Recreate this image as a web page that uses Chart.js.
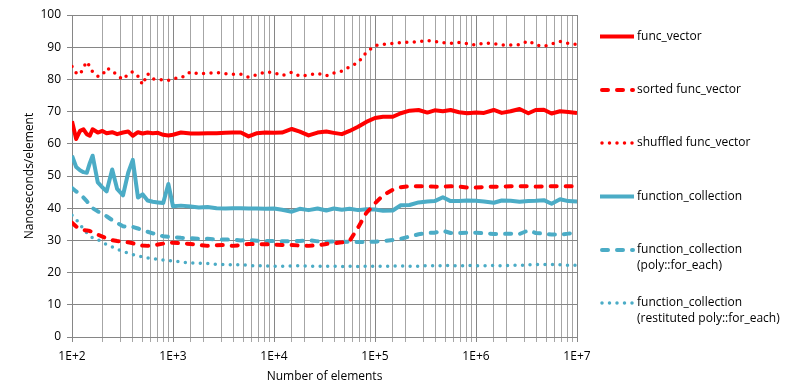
<!DOCTYPE html>
<html>
<head>
<meta charset="utf-8">
<script src="https://cdn.jsdelivr.net/npm/chart.js@4.4.1/dist/chart.umd.min.js"></script>
<style>
  html, body { margin: 0; padding: 0; background: #fff; }
  #wrap { width: 795px; height: 390px; }
</style>
</head>
<body>
<div id="wrap"><canvas id="chart" width="795" height="390"></canvas></div>
<script>
// number of elements (x), shared by every series
const elements = [
  100, 110, 120, 130, 140, 150, 160, 180, 200, 220, 250, 280, 320, 360, 400, 450, 500, 560, 630, 710, 800, 900,
  1e3, 1.2e3, 1.5e3, 1.8e3, 2.2e3, 2.7e3, 3.3e3, 3.9e3, 4.7e3, 5.6e3, 6.8e3, 8.2e3,
  1e4, 1.2e4, 1.5e4, 1.8e4, 2.2e4, 2.7e4, 3.3e4, 3.9e4, 4.7e4, 5.6e4, 6.8e4, 8.2e4,
  1e5, 1.2e5, 1.5e5, 1.8e5, 2.2e5, 2.7e5, 3.3e5, 3.9e5, 4.7e5, 5.6e5, 6.8e5, 8.2e5,
  1e6, 1.2e6, 1.5e6, 1.8e6, 2.2e6, 2.7e6, 3.3e6, 3.9e6, 4.7e6, 5.6e6, 6.8e6, 8.2e6,
  1e7
];

const funcVector = [
  67, 61.5, 64, 64.5, 63, 62.5, 64.5, 63.5, 64, 63.3, 63.6, 63, 63.5, 63.8, 62.5, 63.6, 63.2, 63.5, 63.3, 63.4, 62.8, 62.6,
  62.8, 63.5, 63.2, 63.2, 63.3, 63.3, 63.4, 63.5, 63.5, 62.3, 63.3, 63.5,
  63.4, 63.5, 64.6, 63.8, 62.6, 63.5, 63.8, 63.4, 63.0, 64.0, 65.3, 66.8,
  68, 68.4, 68.4, 69.5, 70.3, 70.5, 69.7, 70.4, 70.1, 70.5, 69.8, 69.5,
  69.7, 69.6, 70.5, 69.6, 70.1, 70.8, 69.5, 70.5, 70.6, 69.4, 70.1, 69.9,
  69.6
];

const sortedFuncVector = [
  35.5, 34.3, 33.6, 33.2, 33.1, 32.9, 32.6, 31.8, 31.2, 30.6, 30.1, 29.8, 29.6, 29.4, 29.1, 28.7, 28.4, 28.3, 28.4, 28.7, 29.0, 29.2,
  29.3, 29.1, 28.9, 28.6, 28.3, 28.5, 28.6, 28.3, 28.5, 28.9, 28.8, 28.8,
  28.7, 28.6, 28.6, 28.4, 28.3, 28.5, 28.9, 29.1, 29.4, 29.8, 34.0, 38.5,
  41.5, 44.0, 45.7, 46.5, 46.8, 46.8, 46.8, 46.7, 46.7, 46.8, 46.7, 46.4,
  46.4, 46.6, 46.7, 46.7, 46.8, 46.8, 46.8, 46.7, 46.8, 46.8, 46.8, 46.8,
  46.8
];

const shuffledFuncVector = [
  84, 82, 81.5, 83.7, 85.5, 84, 82.3, 81, 81.3, 83.5, 82.8, 81.2, 80, 81.7, 82.4, 81, 78.4, 81.8, 80.2, 80, 79.8, 79.7,
  80.3, 80.4, 82.4, 81.7, 81.9, 82.1, 81.8, 81.6, 81.6, 80.7, 81.5, 82.3,
  82.1, 81.2, 82.2, 81, 81.4, 81.9, 81.1, 82, 82.6, 83.9, 85.2, 88.4,
  90.5, 90.9, 91.2, 91.4, 91.6, 91.7, 92.1, 91.8, 91.4, 91.2, 91.5, 91.1,
  90.6, 91.3, 91.1, 90.7, 90.7, 90.8, 92, 90.7, 90.2, 91, 91.8, 91.2,
  90.8
];

const functionCollection = [
  56.3, 52.8, 51.8, 51.2, 51, 54, 56.3, 48, 46.5, 45.2, 52, 46, 44, 51, 55, 43.3, 44.3, 42.4, 42, 41.8, 41.6, 47.5,
  40.6, 40.8, 40.5, 40.2, 40.4, 40, 39.9, 40, 40, 39.9, 39.9, 39.8,
  39.9, 39.5, 38.9, 39.8, 39.4, 39.9, 39.3, 39.9, 39.5, 39.8, 39.4, 39.7,
  39.6, 39.2, 39.3, 40.9, 41, 41.8, 42.1, 42.2, 43.4, 42.2, 42.2, 42.4,
  42.3, 42.1, 41.7, 42.4, 42.3, 42, 42.2, 42.3, 42.5, 41.4, 42.8, 42.2,
  42.1
];

const polyForEach = [
  46.3, 45.2, 44.5, 43.3, 42.2, 41, 40, 39, 38.3, 37.5, 36.3, 35.4, 34.4, 34.1, 34.2, 33.7, 33.2, 32.7, 32.2, 31.7, 31.3, 31.1,
  31, 30.8, 30.7, 30.5, 30.5, 30.3, 30.3, 30.2, 30, 30.1, 29.9, 29.8,
  29.8, 29.7, 29.8, 29.8, 30.1, 29.7, 29.6, 29.7, 29.5, 29.6, 29.5, 29.5,
  29.6, 29.8, 30.1, 30.5, 31.2, 31.9, 32.3, 32.4, 33, 32.3, 32.3, 32.4,
  32.4, 32.2, 32, 32, 32.1, 32, 33.1, 32.3, 32.1, 31.8, 31.8, 32.1,
  32.5
];

const restitutedPolyForEach = [
  37.8, 36.5, 35, 33.5, 32.4, 31.5, 30.8, 30.2, 29.5, 28.7, 28, 27.3, 26.6, 26, 25.6, 25.2, 24.9, 24.6, 24.3, 24.1, 23.9, 23.8,
  23.6, 23.3, 23, 22.9, 22.8, 22.6, 22.5, 22.4, 22.5, 22.2, 22.1, 22.1,
  22, 22, 22.1, 22.1, 22, 22, 22, 22, 21.9, 22, 21.9, 22,
  22, 22, 22, 22.1, 22, 22, 22.2, 22.1, 22.2, 22.2, 22.1, 22.2,
  22.1, 22.1, 22.2, 22.1, 22.3, 22.2, 22.4, 22.5, 22.5, 22.5, 22.4, 22.3,
  22.3
];

const seriesNames = [
  ['func_vector'],
  ['sorted func_vector'],
  ['shuffled func_vector'],
  ['function_collection'],
  ['function_collection', '(poly::for_each)'],
  ['function_collection', '(restituted poly::for_each)']
];

const yTicks = [0, 10, 20, 30, 40, 50, 60, 70, 80, 90, 100];

const RED = '#ff0000';
const TEAL = '#4bacc6';
const SOLID = [];
const DASHED = [6, 9];
const DOTTED = [0, 7.5];

function points(values) {
  return elements.map((n, i) => ({ x: n, y: values[i] }));
}

function series(name, values, color, dash, width) {
  return {
    label: name.join(' '),
    data: points(values),
    borderColor: color,
    backgroundColor: color,
    borderWidth: width,
    borderDash: dash,
    borderCapStyle: dash.length ? 'round' : 'butt',
    borderJoinStyle: 'round',
    pointRadius: 0,
    pointHoverRadius: 0,
    tension: 0,
    fill: false
  };
}

function isDecade(v) {
  const e = Math.log10(v);
  return Math.abs(e - Math.round(e)) < 1e-9;
}

// legend drawn at the right, like the original sheet
const sideLegend = {
  id: 'sideLegend',
  afterDraw(chart) {
    const ctx = chart.ctx;
    const rows = [36.5, 90, 143, 196.5, 250, 303];
    chart.data.datasets.forEach((ds, i) => {
      const y = rows[i];
      ctx.save();
      ctx.strokeStyle = ds.borderColor;
      ctx.lineWidth = ds.borderWidth;
      ctx.lineCap = ds.borderCapStyle;
      ctx.setLineDash(ds.borderDash);
      ctx.beginPath();
      if (ds.borderDash.length) {
        ctx.moveTo(602, y);
        ctx.lineTo(633, y);
      } else {
        ctx.moveTo(600, y);
        ctx.lineTo(634, y);
      }
      ctx.stroke();
      ctx.setLineDash([]);
      ctx.fillStyle = '#000';
      ctx.font = '12px "Open Sans"';
      ctx.textBaseline = 'middle';
      ctx.textAlign = 'left';
      seriesNames[i].forEach((t, j) => ctx.fillText(t, 637, y + j * 16));
      ctx.restore();
    });
  }
};

Chart.defaults.font.family = '"Open Sans", sans-serif';
Chart.defaults.font.size = 12;
Chart.defaults.color = '#000';

const config = {
  type: 'line',
  data: {
    datasets: [
      series(seriesNames[0], funcVector, RED, SOLID, 4),
      series(seriesNames[1], sortedFuncVector, RED, DASHED, 4),
      series(seriesNames[2], shuffledFuncVector, RED, DOTTED, 3.5),
      series(seriesNames[3], functionCollection, TEAL, SOLID, 4),
      series(seriesNames[4], polyForEach, TEAL, DASHED, 4),
      series(seriesNames[5], restitutedPolyForEach, TEAL, DOTTED, 3.5)
    ]
  },
  options: {
    responsive: false,
    animation: false,
    devicePixelRatio: 1,
    layout: { padding: { left: 0, top: 15, right: 218, bottom: 0 } },
    plugins: {
      legend: { display: false },
      tooltip: { enabled: false }
    },
    scales: {
      x: {
        type: 'logarithmic',
        min: elements[0],
        max: elements[elements.length - 1],
        title: { display: true, text: 'Number of elements', padding: { top: 0, bottom: 6 } },
        grid: {
          color: (c) => (c.tick && isDecade(c.tick.value) ? '#868686' : '#a6a6a6'),
          tickLength: 5,
          lineWidth: 1
        },
        border: { color: '#868686' },
        ticks: {
          autoSkip: false,
          maxRotation: 0,
          padding: 7,
          callback: (v) => (isDecade(v) ? '1E+' + Math.round(Math.log10(v)) : '')
        },
        afterFit: (s) => { s.height = 53; }
      },
      y: {
        min: yTicks[0],
        max: yTicks[yTicks.length - 1],
        title: { display: true, text: 'Nanoseconds/element', padding: { top: 22, bottom: 0 } },
        grid: { color: '#868686', tickLength: 5 },
        border: { color: '#868686' },
        ticks: { stepSize: yTicks[1] - yTicks[0], padding: 6 },
        afterBuildTicks: (s) => { s.ticks = yTicks.map((v) => ({ value: v })); },
        afterFit: (s) => { s.width = 72; }
      }
    }
  },
  plugins: [sideLegend]
};

new Chart(document.getElementById('chart').getContext('2d'), config);
</script>
</body>
</html>
